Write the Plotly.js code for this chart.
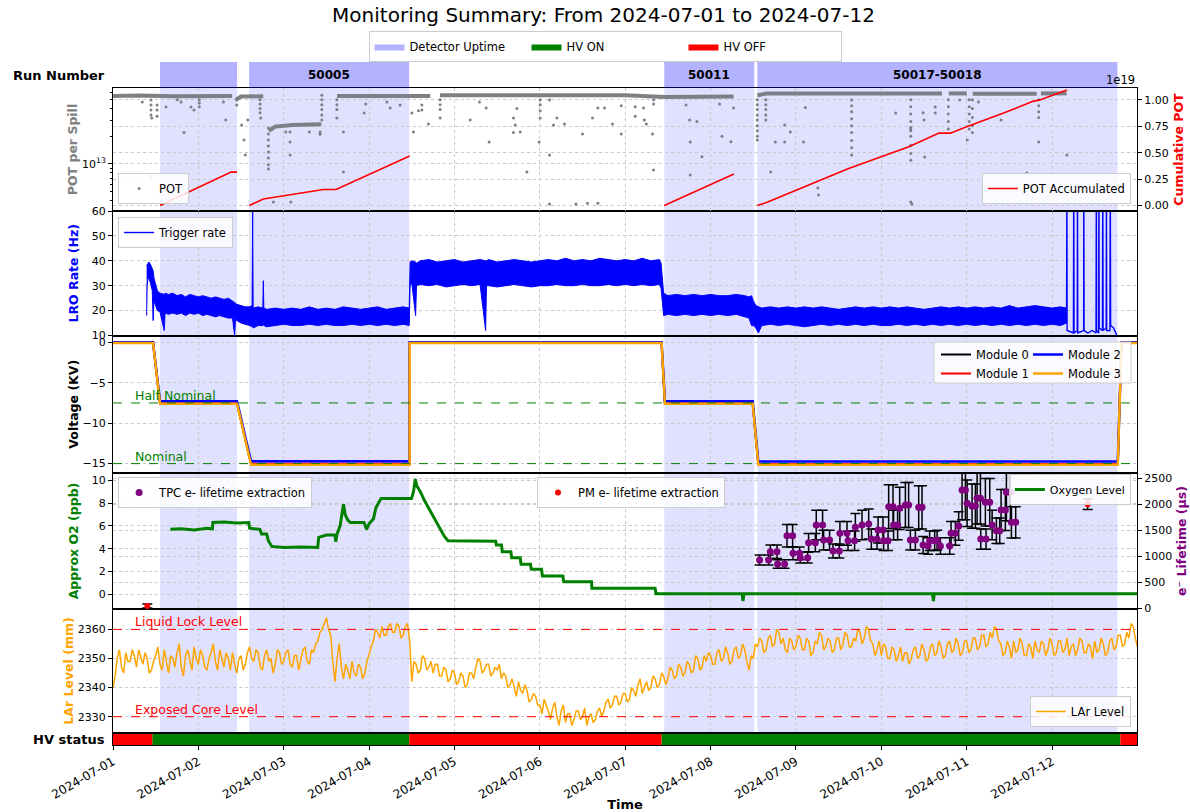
<!DOCTYPE html>
<html><head><meta charset="utf-8">
<script src="https://cdn.plot.ly/plotly-3.0.1.min.js"></script>
<style>html,body{margin:0;padding:0;background:#fff}#chart{width:1190px;height:812px}</style>
</head><body><div id="chart"></div>
<script>
// ---------- DATA (times are days since 2024-07-01 00:00) ----------
const upStart = [0.551, 1.594, 6.457, 7.547];
const upEnd   = [1.453, 3.469, 7.512, 11.766];
const runLabels = ['', '50005', '50011', '50017-50018'];

const hvOnStart = [0.46, 6.425];
const hvOnEnd   = [3.47, 11.80];
const hvOffStart = [0, 3.47, 11.80];
const hvOffEnd   = [0.46, 6.425, 12.0];

// POT per spill: dense band (with gaps) and scattered points
const potBandT = [0.0, 0.3, 0.7, 1.0, 1.395, null, 1.44, 1.5, 1.76, null, 1.825, 1.9, 2.1, 2.44, null,
  2.625, 3.0, 3.715, null, 3.83, 5.0, 6.0, 6.46, 7.27, null, 7.547, 7.66, 8.5, 9.71, null, 9.79, 10.0, null,
  10.07, 10.82, null, 10.87, 11.17];
const potBandV = [5.5e13, 5.55e13, 5.45e13, 5.5e13, 5.5e13, null, 5.0e13, 5.4e13, 5.45e13, null, 2.3e13, 2.55e13, 2.65e13, 2.7e13, null,
  5.5e13, 5.5e13, 5.5e13, null, 5.6e13, 5.65e13, 5.6e13, 5.35e13, 5.4e13, null, 5.6e13, 5.85e13, 5.85e13, 5.85e13, null, 5.85e13, 5.85e13, null,
  5.8e13, 5.8e13, null, 5.85e13, 5.85e13];
const potT = [0.343, 0.445, 0.445, 0.445, 0.445, 0.454, 0.516, 0.516, 0.516, 0.454, 0.621, 0.754, 0.832, 0.914, 0.949,
  1.011, 1.011, 1.011, 0.797, 1.293, 1.321, 1.450, 1.450, 1.508, 1.535, 1.550, 1.579,
  1.723, 1.723, 1.723, 1.723, 1.730, 1.820, 1.820, 1.820, 1.820, 1.820, 1.820, 1.820, 1.820,
  1.879, 2.024, 2.074, 2.074, 2.074, 2.083, 2.300, 2.426, 2.426,
  2.446, 2.446, 2.446, 2.446, 2.446, 2.446, 2.622, 2.622, 2.622, 2.622, 2.699, 2.699,
  2.942, 2.961, 3.208, 3.246, 3.363, 3.501, 3.519, 3.578, 3.618, 3.618, 3.695,
  3.832, 3.832, 3.832, 3.832, 4.184, 4.293, 4.371, 4.406, 4.691, 4.711, 4.691, 4.770, 4.731, 4.848, 4.992,
  5.004, 5.004, 5.004, 5.004, 5.113, 5.113, 5.113, 5.160, 5.200, 5.289, 5.500, 5.423, 5.558, 5.680,
  5.617, 5.680, 5.758, 5.851, 5.953, 5.953, 6.117, 6.117, 6.215, 6.223, 6.247, 6.320, 6.332, 6.332, 6.332,
  6.712, 6.754, 6.840, 6.762, 6.899, 6.762, 7.105, 7.133, 7.239, 7.269,
  7.547, 7.547, 7.547, 7.547, 7.547, 7.547, 7.547, 7.547, 7.547, 7.647, 7.647, 7.647, 7.647, 7.647,
  7.704, 7.758, 7.867, 7.867, 7.934, 8.110, 8.089, 8.256, 8.264,
  8.652, 8.652, 8.652, 8.652, 8.652, 8.652, 8.652, 8.652, 8.652, 9.168,
  9.345, 9.345, 9.345, 9.345, 9.345, 9.345, 9.345, 9.345, 9.345, 9.345, 9.345, 9.345, 9.358,
  9.490, 9.500, 9.508, 9.631, 9.631, 9.785, 9.785, 9.785, 9.785, 9.785, 9.918, 10.006,
  10.030, 10.030, 10.030, 10.030, 10.030, 10.067, 10.067, 10.067, 10.067, 10.067, 10.137, 10.403, 10.703,
  10.844, 10.844, 10.844, 10.844, 10.844, 11.174];
const potV = [4.72e13, 4.96e13, 4.38e13, 3.86e13, 3.41e13, 3.16e13, 4.38e13, 3.86e13, 3.3e13, 0.74e13, 4.17e13, 5.0e13, 2.2e13, 4.17e13, 3.86e13,
  5.0e13, 4.6e13, 4.2e13, 4.72e13, 4.72e13, 3.01e13, 4.96e13, 4.38e13, 2.65e13, 1.82e13, 1.25e13, 3.01e13,
  5.0e13, 4.5e13, 4.0e13, 3.6e13, 3.16e13, 2.46e13, 2.12e13, 1.82e13, 1.57e13, 1.35e13, 1.16e13, 0.98e13, 0.88e13,
  0.386e13, 2.23e13, 2.23e13, 1.73e13, 1.25e13, 0.386e13, 2.23e13, 2.23e13, 2.1e13,
  5.6e13, 5.0e13, 4.4e13, 3.9e13, 3.4e13, 3.0e13, 5.0e13, 4.4e13, 3.9e13, 3.16e13, 0.82e13, 2.23e13,
  3.58e13, 4.49e13, 4.72e13, 4.06e13, 4.38e13, 3.58e13, 2.23e13, 3.8e13, 3.86e13, 4.38e13, 2.72e13,
  5.0e13, 4.4e13, 3.9e13, 3.16e13, 3.0e13, 4.72e13, 4.06e13, 1.73e13, 3.16e13, 2.65e13, 2.2e13, 2.23e13, 4.0e13, 0.82e13, 1.73e13,
  5.0e13, 4.4e13, 3.8e13, 3.16e13, 1.25e13, 0.367e13, 4.96e13, 2.65e13, 3.16e13, 2.72e13, 2.12e13, 0.367e13, 0.375e13, 0.375e13,
  3.16e13, 4.06e13, 4.06e13, 2.72e13, 4.3e13, 2.12e13, 4.2e13, 3.3e13, 4.06e13, 3.01e13, 2.72e13, 2.12e13, 0.86e13, 5.0e13, 4.5e13,
  4.38e13, 3.01e13, 2.9e13, 1.73e13, 1.2e13, 0.76e13, 4.49e13, 2.0e13, 1.75e13, 4.06e13,
  5.0e13, 4.4e13, 3.9e13, 3.4e13, 3.0e13, 2.6e13, 2.3e13, 2.0e13, 1.82e13, 5.0e13, 4.4e13, 3.9e13, 3.4e13, 3.0e13,
  0.82e13, 1.73e13, 1.73e13, 2.65e13, 2.23e13, 4.1e13, 1.73e13, 0.55e13, 0.46e13,
  4.96e13, 4.3e13, 3.7e13, 3.1e13, 2.6e13, 2.2e13, 1.8e13, 1.5e13, 1.25e13, 3.58e13,
  5.0e13, 4.2e13, 3.5e13, 2.9e13, 2.5e13, 2.4e13, 2.3e13, 2.0e13, 1.6e13, 1.3e13, 1.1e13, 0.386e13, 0.367e13,
  3.6e13, 3.0e13, 1.19e13, 4.17e13, 3.58e13, 5.0e13, 4.2e13, 3.5e13, 2.9e13, 2.4e13, 4.96e13, 1.82e13,
  5.0e13, 4.2e13, 3.5e13, 2.9e13, 2.4e13, 5.0e13, 4.0e13, 3.2e13, 2.6e13, 2.2e13, 4.72e13, 3.0e13, 0.8e13,
  5.0e13, 4.3e13, 3.7e13, 3.2e13, 1.73e13, 1.25e13];

// Cumulative POT per run (units of 1e19)
const potCumT = [0.551, 1.383, 1.453, null, 1.594, 1.761, 2.466, 2.613, 3.475, null, 6.457, 7.273, null,
  7.547, 7.669, 8.617, 9.323, 9.675, 9.809, 10.006, 10.425, 10.777, 10.864, 11.174];
const potCumE19 = [0, 0.317, 0.317, null, 0, 0.062, 0.152, 0.152, 0.47, null, 0, 0.298, null,
  0, 0.033, 0.35, 0.557, 0.686, 0.686, 0.75, 0.874, 0.987, 1.003, 1.094];

// LRO trigger rate: upper / lower envelope of the dense trace, and the erratic end
const lroT = [0.394,0.400,0.410,0.420,0.440,0.460,0.470,0.480,0.500,0.520,0.550,0.600,0.610,0.650,0.700,0.750,0.800,0.850,0.900,0.950,
  1.000,1.050,1.100,1.150,1.200,1.250,1.300,1.350,1.400,1.425,1.435,1.450,1.500,1.550,1.600,1.630,1.636,1.642,1.700,1.755,1.761,1.767,
  1.800,1.900,2.000,2.100,2.200,2.300,2.400,2.500,2.600,2.700,2.800,2.900,3.000,3.100,3.200,3.300,3.400,3.470,
  3.475,3.480,3.500,3.545,3.555,3.600,3.700,3.800,3.900,4.000,4.100,4.200,4.300,4.365,4.375,4.400,4.500,4.600,4.700,4.800,4.900,
  5.000,5.100,5.200,5.300,5.400,5.500,5.600,5.700,5.800,5.900,6.000,6.100,6.200,6.300,6.400,6.420,
  6.450,6.500,6.600,6.700,6.800,6.900,7.000,7.100,7.200,7.300,7.400,7.450,7.480,7.500,7.530,7.560,7.600,7.700,7.800,7.900,
  8.000,8.100,8.200,8.300,8.400,8.500,8.600,8.700,8.800,8.900,9.000,9.100,9.200,9.300,9.400,9.500,9.600,9.700,9.800,9.900,
  10.000,10.100,10.200,10.300,10.400,10.500,10.600,10.700,10.800,10.900,11.000,11.100,11.170];
const lroHi = [38,38.5,39,39.5,38.5,37,36,33,30,28,27,26.5,27,26.5,27,26,26.5,25.5,26.5,26,
  25.5,26,25.5,25,25.5,25,24.5,25,24,23.5,23,22.5,22,21.5,21.5,22,60,21,21.5,21,32,21,
  20.5,21,20.5,21,20.5,21.5,20.5,21,20.5,21.5,21,20.5,21,21.5,20.5,21,21.5,21,
  39,39.5,40,39.5,39,40,40.5,39.5,40,40.5,39.5,40,40.5,40,40,40.5,39.5,40,40.5,40,39.5,
  40,40.5,40,41,40,40.5,40,41,40.5,40,40.5,40,41,40,40.5,39,
  27,26,26.5,26,26.5,26,26.5,26,26,26.5,26,25.5,26,24,22,21.5,21,21.5,21,21.5,
  21,21.5,21,21.5,21,20.5,21,21.5,21,21.5,21,21.5,21,21.5,21,20.5,21,21.5,21,21.5,
  21,21.5,21,21.5,21,22,21,21.5,22,21.5,21,21.5,21];
const lroLo = [18,30,33,33,31,28,16,24,22,20,19.5,12,19,18.5,19,18.5,19,18,19,18.5,
  19,18,18.5,18,17.5,18,17.5,17,17,10,16.5,16,15,14.5,14,13.5,14,13,14,14,14.5,14,
  13.5,14,14.5,14,14,14.5,14,14.5,14,14,14.5,14,14.5,14,14.5,14,14.5,14,
  14,30,31,18,30,30.5,30,30.5,29.5,30,30.5,30,30.5,12,30,30,29.5,30,30.5,30,29.5,
  30,30,30.5,30,30,30.5,30,30,30.5,30,30.5,30,30.5,30,30.5,29,
  18,18.5,18,18.5,18,18.5,18,18.5,18,18.5,17.5,17,14,14,13,11,14,14.5,14,14.5,
  14,13.5,14,14.5,14,14.5,14,14.5,14,14.5,14,14,14.5,14,14.5,14,14.5,14,14.5,14,
  14.5,14,14.5,14,14.5,14,14.5,14,14.5,14,14.5,14,15];
const lroEndT = [11.170,11.174,11.176,11.250,11.254,11.258,11.295,11.298,11.301,11.370,11.372,11.375,11.420,11.470,
  11.515,11.519,11.522,11.546,11.549,11.552,11.590,11.594,11.598,11.634,11.637,11.640,11.678,11.682,11.686,11.720,11.747,11.760];
const lroEndV = [18,75,12,11,75,11,12,75,11,12,75,12,11,12,11,75,12,11,75,13,12,75,12,13,75,12,12,75,14,13,11,10];

// HV voltages (kV)
const voltT = [0, 0.469, 0.551, 1.453, 1.617, 3.475, 3.476, 6.426, 6.465, 7.493, 7.559, 11.770, 11.813, 12.0];
const voltM0 = [-0.05, -0.05, -7.55, -7.55, -15.1, -15.1, -0.05, -0.05, -7.55, -7.55, -15.1, -15.1, -0.05, -0.05];
const voltM1 = [-0.05, -0.05, -7.5, -7.5, -15.0, -15.0, -0.05, -0.05, -7.5, -7.5, -15.05, -15.05, -0.05, -0.05];
const voltM2 = [0, 0, -7.3, -7.3, -14.7, -14.7, 0, 0, -7.3, -7.3, -14.75, -14.75, 0, 0];
const voltM3 = [-0.1, -0.1, -7.6, -7.6, -15.15, -15.15, -0.1, -0.1, -7.6, -7.6, -15.15, -15.15, -0.1, -0.1];
const voltRefLevels = [-7.5, -15];
const voltRefNames = ['Half Nominal', 'Nominal'];

// Approx O2 (ppb)
const o2T = [0.672,0.8,0.95,1.10,1.165,1.17,1.3,1.45,1.59,1.60,1.72,1.74,1.80,1.82,1.86,2.0,2.2,2.398,2.41,2.50,2.60,2.61,2.625,2.66,2.70,2.72,2.75,2.78,2.94,2.97,
  3.00,3.05,3.08,3.12,3.14,3.30,3.497,3.52,3.541,3.56,3.60,3.65,3.70,3.743,3.79,3.832,3.88,3.924,4.2,4.483,4.49,4.55,4.56,4.66,4.67,4.77,4.78,4.89,4.90,5.02,
  5.03,5.27,5.28,5.605,5.61,6.35,6.36,7.37,7.38,7.39,9.60,9.61,9.62,12.0];
const o2V = [5.7,5.75,5.65,5.8,5.75,6.3,6.35,6.25,6.3,5.8,5.7,5.3,5.3,4.7,4.2,4.1,4.15,4.1,5.0,5.2,5.2,4.6,5.3,6.0,7.9,7.0,6.5,6.3,6.3,5.7,
  6.2,6.6,7.6,8.2,8.4,8.4,8.4,9.0,10.1,9.5,9.0,8.2,7.5,7.0,6.3,5.7,5.1,4.7,4.7,4.65,4.32,4.32,3.74,3.74,3.21,3.21,2.63,2.63,2.19,2.19,
  1.6,1.6,1.1,1.1,0.52,0.52,0.05,0.05,-0.6,0.05,0.05,-0.6,0.05,0.05];

// TPC electron lifetime (us) with errors
const ltT = [7.574,7.680,7.700,7.778,7.785,7.867,7.895,7.961,7.966,8.043,8.051,8.137,8.148,8.227,8.238,8.312,8.324,8.394,8.434,8.508,
  8.515,8.598,8.610,8.687,8.696,8.774,8.852,8.883,8.950,8.962,9.020,9.027,9.079,9.086,9.137,9.144,9.191,9.215,9.282,9.320,
  9.340,9.399,9.438,9.477,9.489,9.548,9.566,9.625,9.653,9.692,9.801,9.817,9.868,9.906,9.946,9.985,10.005,10.063,10.102,10.122,
  10.161,10.165,10.227,10.219,10.270,10.298,10.348,10.387,10.403,10.453,10.465,10.512,10.524,10.574];
const ltV = [929,929,1089,1089,852,852,1396,1396,1057,1057,974,974,1262,1262,1602,1602,1313,1313,1102,1102,
  1442,1442,1300,1300,1557,1602,1621,1332,1332,1506,1506,1300,1300,1954,1954,1602,1602,1923,1987,1987,
  1313,1313,1942,1942,1217,1198,1300,1300,1313,1198,1198,1442,1442,1583,2275,2275,2019,1967,1967,2115,
  2115,1332,1332,2038,2038,1602,1493,1493,1890,1890,2230,2230,1654,1654];
const ltErr = [95,95,130,130,80,80,215,215,123,123,104,104,175,175,282,282,190,190,134,134,
  229,229,186,186,267,282,289,195,195,250,250,186,186,420,420,282,282,407,434,434,
  190,190,415,415,163,158,186,186,190,158,158,229,229,276,570,570,448,425,425,492,
  492,195,195,457,457,282,245,245,393,393,547,547,301,301];
const pmT = [0.402, 11.417];
const pmV = [44, 2000];
const pmErr = [40, 100];

// LAr level (mm), sampled every 0.025 day from day 0 (one row = half a day)
const larStepDays = 0.025;
const larV = [
  2340,2344,2350,2353,2347,2345,2352,2349,2349,2353,2351,2347,2353,2350,2348,2352,2350,2345,2346,2349,
  2351,2354,2348,2346,2353,2349,2345,2351,2350,2347,2352,2355,2347,2344,2351,2353,2349,2346,2354,2350,
  2348,2353,2351,2347,2346,2350,2352,2355,2349,2346,2353,2350,2347,2352,2350,2346,2352,2348,2345,2350,
  2351,2346,2348,2352,2354,2350,2349,2353,2352,2347,2346,2351,2353,2349,2350,2345,2348,2353,2352,2348,
  2349,2352,2353,2348,2347,2351,2351,2346,2350,2353,2354,2349,2348,2353,2352,2355,2356,2359,2360,2362,
  2364,2360,2358,2349,2342,2350,2355,2347,2343,2348,2346,2343,2349,2345,2344,2348,2347,2343,2345,2349,
  2352,2354,2356,2360,2359,2357,2361,2358,2358,2361,2362,2359,2359,2362,2361,2357,2358,2361,2362,2356,
  2342,2349,2348,2345,2346,2351,2350,2346,2347,2349,2345,2348,2348,2344,2344,2347,2346,2342,2343,2346,
  2345,2341,2342,2345,2344,2340,2341,2345,2345,2343,2347,2350,2349,2345,2346,2348,2348,2344,2345,2347,
  2346,2348,2343,2345,2344,2340,2341,2343,2340,2337,2342,2339,2338,2341,2339,2335,2336,2338,2337,2334,
  2334,2331,2336,2334,2332,2329,2333,2335,2330,2327,2332,2334,2328,2331,2331,2327,2329,2332,2332,2329,
  2330,2333,2327,2330,2331,2328,2329,2332,2333,2330,2332,2335,2336,2333,2334,2337,2337,2334,2335,2338,
  2338,2335,2336,2340,2339,2337,2341,2343,2338,2340,2342,2339,2340,2344,2343,2340,2341,2345,2344,2341,
  2343,2347,2346,2343,2344,2348,2347,2344,2345,2349,2348,2345,2346,2351,2350,2346,2347,2351,2349,2352,
  2351,2348,2348,2352,2353,2349,2350,2354,2352,2348,2349,2353,2354,2350,2351,2355,2353,2349,2346,2351,
  2350,2355,2354,2357,2356,2352,2353,2357,2358,2354,2355,2360,2359,2355,2357,2353,2352,2357,2356,2353,
  2354,2358,2357,2353,2353,2357,2356,2351,2352,2356,2355,2359,2358,2353,2354,2357,2356,2352,2353,2357,
  2357,2353,2355,2359,2358,2354,2354,2357,2356,2360,2359,2355,2357,2361,2360,2356,2355,2351,2353,2356,
  2351,2355,2354,2350,2350,2354,2353,2349,2351,2354,2349,2352,2352,2348,2350,2353,2354,2350,2351,2355,
  2353,2349,2350,2354,2355,2351,2352,2356,2354,2350,2351,2355,2356,2352,2353,2357,2355,2351,2352,2356,
  2356,2352,2353,2357,2357,2353,2354,2358,2358,2354,2355,2359,2357,2361,2360,2356,2355,2351,2352,2356,
  2354,2350,2356,2352,2353,2357,2355,2351,2351,2355,2354,2350,2356,2353,2352,2356,2355,2351,2353,2357,
  2355,2351,2352,2356,2356,2352,2353,2357,2351,2354,2355,2351,2353,2357,2356,2352,2352,2355,2354,2350,
  2356,2352,2353,2357,2355,2351,2352,2356,2357,2353,2354,2358,2358,2354,2355,2359,2357,2362,2361,2357,
  2354];
const larRefLevels = [2360, 2330];
const larRefNames = ['Liquid Lock Level', 'Exposed Core Level'];

// ---------- HELPERS ----------
const START = Date.UTC(2024, 6, 1);
function toDate(d) { return d === null ? null : new Date(START + d * 86400000).toISOString().replace('T', ' ').slice(0, 19); }
function dates(arr) { return arr.map(toDate); }
function rectPoly(starts, ends) {
  const xs = [], ys = [];
  for (let i = 0; i < starts.length; i++) {
    xs.push(starts[i], ends[i], ends[i], starts[i], starts[i], null);
    ys.push(0, 0, 1, 1, 0, null);
  }
  return {x: dates(xs), y: ys};
}
const larT = larV.map((v, i) => i * larStepDays);

const FONT = 'DejaVu Sans, Verdana, sans-serif';
const GRID = {showgrid: true, gridcolor: '#c9c9c9', griddash: 'dot', gridwidth: 1};
const LEG = {bgcolor: 'rgba(255,255,255,0.85)', bordercolor: '#cccccc', borderwidth: 1, font: {size: 11.5, family: FONT, color: '#000'}};

// ---------- TRACES ----------
const traces = [];
const runPoly = rectPoly(upStart, upEnd);
traces.push({x: runPoly.x, y: runPoly.y, xaxis: 'x9', yaxis: 'y9', type: 'scatter', mode: 'lines', fill: 'toself',
  fillcolor: 'rgba(0,0,255,0.30)', line: {width: 0, color: 'rgba(0,0,255,0.30)'}, name: 'Detector Uptime', legend: 'legend', legendrank: 1});
const onPoly = rectPoly(hvOnStart, hvOnEnd);
traces.push({x: onPoly.x, y: onPoly.y, xaxis: 'x', yaxis: 'y', type: 'scatter', mode: 'lines', fill: 'toself',
  fillcolor: '#008000', line: {width: 0, color: '#008000'}, name: 'HV ON', legend: 'legend', legendrank: 2});
const offPoly = rectPoly(hvOffStart, hvOffEnd);
traces.push({x: offPoly.x, y: offPoly.y, xaxis: 'x', yaxis: 'y', type: 'scatter', mode: 'lines', fill: 'toself',
  fillcolor: '#ff0000', line: {width: 0, color: '#ff0000'}, name: 'HV OFF', legend: 'legend', legendrank: 3});

// POT
traces.push({x: dates(potBandT), y: potBandV, xaxis: 'x7', yaxis: 'y7', mode: 'lines', line: {color: 'rgba(120,120,128,0.95)', width: 4},
  showlegend: false});
traces.push({x: dates(potT), y: potV, xaxis: 'x7', yaxis: 'y7', mode: 'markers', marker: {color: 'rgba(120,120,128,0.95)', size: 3},
  name: 'POT', legend: 'legend2'});
traces.push({x: dates(potCumT), y: potCumE19, xaxis: 'x7', yaxis: 'y8', mode: 'lines', line: {color: '#ff0000', width: 1.6},
  name: 'POT Accumulated', legend: 'legend3'});

// LRO
traces.push({x: dates(lroT.concat(lroT.slice().reverse())), y: lroHi.concat(lroLo.slice().reverse()), xaxis: 'x6', yaxis: 'y6',
  mode: 'lines', fill: 'toself', fillcolor: '#0000ff', line: {color: '#0000ff', width: 1}, showlegend: false});
traces.push({x: dates(lroEndT), y: lroEndV, xaxis: 'x6', yaxis: 'y6', mode: 'lines', line: {color: '#0000ff', width: 1.4},
  name: 'Trigger rate', legend: 'legend4'});

// Voltage
traces.push({x: dates(voltT), y: voltM0, xaxis: 'x5', yaxis: 'y5', mode: 'lines', line: {color: '#000000', width: 2}, name: 'Module 0', legend: 'legend5', legendrank: 1});
traces.push({x: dates(voltT), y: voltM1, xaxis: 'x5', yaxis: 'y5', mode: 'lines', line: {color: '#ff0000', width: 2}, name: 'Module 1', legend: 'legend5', legendrank: 2});
traces.push({x: dates(voltT), y: voltM2, xaxis: 'x5', yaxis: 'y5', mode: 'lines', line: {color: '#0000ff', width: 2.5}, name: 'Module 2', legend: 'legend6', legendrank: 1});
traces.push({x: dates(voltT), y: voltM3, xaxis: 'x5', yaxis: 'y5', mode: 'lines', line: {color: '#ffa500', width: 2.5}, name: 'Module 3', legend: 'legend6', legendrank: 2});

// O2 + lifetime
traces.push({x: dates(o2T), y: o2V, xaxis: 'x3', yaxis: 'y3', mode: 'lines', line: {color: '#008000', width: 3}, name: 'Oxygen Level', legend: 'legend9'});
traces.push({x: dates(ltT), y: ltV, xaxis: 'x3', yaxis: 'y4', mode: 'markers', marker: {color: '#800080', size: 7},
  error_y: {type: 'data', array: ltErr, visible: true, color: '#000', thickness: 1.5, width: 5},
  name: 'TPC e- lifetime extraction', legend: 'legend7'});
traces.push({x: dates(pmT), y: pmV, xaxis: 'x3', yaxis: 'y4', mode: 'markers', marker: {color: '#ff0000', size: 6},
  error_y: {type: 'data', array: pmErr, visible: true, color: '#000', thickness: 1.5, width: 5},
  name: 'PM e- lifetime extraction', legend: 'legend8'});

// LAr
traces.push({x: dates(larT), y: larV, xaxis: 'x2', yaxis: 'y2', mode: 'lines', line: {color: '#ffa500', width: 1.5}, name: 'LAr Level', legend: 'legend10'});

// ---------- LAYOUT ----------
const plotT = 62, plotB = 745, plotH = plotB - plotT;
function dom(topPx, botPx) { return [(plotB - botPx) / plotH, (plotB - topPx) / plotH]; }
function py(p) { return (plotB - p) / plotH; }
function px(p) { return (p - 113) / 1024; }
const D = {run: dom(62, 88), pot: dom(88, 211), lro: dom(211, 335.5), volt: dom(335.5, 473), o2: dom(473, 609), lar: dom(609, 733), hv: dom(733, 745)};

const xr = [toDate(0), toDate(11.995)];
function xax(anchor, extra) {
  return Object.assign({range: xr, type: 'date', anchor: anchor, matches: anchor === 'y' ? undefined : 'x', showticklabels: false,
    showline: true, mirror: true, linecolor: '#000', linewidth: 1, ticks: '', dtick: 86400000, tick0: toDate(0)}, GRID, extra || {});
}
function yax(domain, title, color, extra) {
  return Object.assign({domain: domain, anchor: 'x', showline: true, mirror: true, linecolor: '#000', linewidth: 1,
    ticks: 'outside', ticklen: 4, tickcolor: '#000', tickfont: {size: 11, family: FONT, color: '#000'},
    title: {text: '<b>' + title + '</b>', font: {size: 12.5, family: FONT, color: color}}, zeroline: false}, GRID, extra || {});
}

const layout = {
  width: 1190, height: 812,
  margin: {l: 113, r: 53, t: plotT, b: 812 - plotB},
  paper_bgcolor: '#fff', plot_bgcolor: '#fff',
  font: {family: FONT, size: 11, color: '#000'},
  title: {text: 'Monitoring Summary: From 2024-07-01 to 2024-07-12', font: {size: 20, family: FONT, color: '#000'},
    x: 0.479, xref: 'paper', xanchor: 'center', y: 1 - 15 / 812, yref: 'container', yanchor: 'middle'},
  xaxis: xax('y', {showticklabels: true, ticks: 'outside', ticklen: 4, tickcolor: '#000', tickangle: -30, tickformat: '%Y-%m-%d',
    tickfont: {size: 12.2, family: FONT, color: '#000'}, showgrid: false,
    title: {text: '<b>Time</b>', font: {size: 13, family: FONT}, standoff: 2}}),
  xaxis2: xax('y2'), xaxis3: xax('y3'), xaxis5: xax('y5'), xaxis6: xax('y6'), xaxis7: xax('y7'),
  xaxis9: xax('y9', {showline: false, showgrid: false}),
  yaxis: {domain: D.hv, anchor: 'x', range: [0, 1], showticklabels: false, ticks: '', showgrid: false, zeroline: false,
    showline: true, mirror: true, linecolor: '#000'},
  yaxis2: yax(D.lar, 'LAr Level (mm)', '#ffa500', {anchor: 'x2', range: [2324.4, 2367], dtick: 10}),
  yaxis3: yax(D.o2, 'Approx O2 (ppb)', '#008000', {anchor: 'x3', range: [-1.29, 10.64], dtick: 2}),
  yaxis4: yax(D.o2, 'e⁻ Lifetime (μs)', '#800080', {anchor: 'x3', overlaying: 'y3', side: 'right', range: [-13, 2602], dtick: 500, mirror: false}),
  yaxis5: yax(D.volt, 'Voltage (KV)', '#000', {anchor: 'x5', range: [-16.16, 0.84], dtick: 5}),
  yaxis6: yax(D.lro, 'LRO Rate (Hz)', '#0000ff', {anchor: 'x6', range: [10, 60], dtick: 10}),
  yaxis7: yax(D.pot, 'POT per Spill', '#808080', {anchor: 'x7', type: 'log', range: [12.489, 13.826], tickvals: [1e13], ticktext: ['10<sup>13</sup>'],
    minor: {ticks: 'outside', ticklen: 2, tickcolor: '#000', tickvals: [4e12, 5e12, 6e12, 7e12, 8e12, 9e12, 2e13, 3e13, 4e13, 5e13, 6e13], showgrid: false}}),
  yaxis8: yax(D.pot, 'Cumulative POT', '#ff0000', {anchor: 'x7', overlaying: 'y7', side: 'right', range: [-0.0515, 1.1136],
    tickvals: [0, 0.25, 0.5, 0.75, 1.0], tickformat: '.2f', mirror: false}),
  yaxis9: {domain: D.run, anchor: 'x9', range: [0, 1], showticklabels: false, ticks: '', showgrid: false, zeroline: false, showline: false},
  legend: Object.assign({}, LEG, {orientation: 'h', x: px(605), xanchor: 'center', y: py(31), yanchor: 'top',
    entrywidth: 112, entrywidthmode: 'pixels', traceorder: 'normal'}),
  legend2: Object.assign({}, LEG, {x: 0.005, xanchor: 'left', y: py(204), yanchor: 'bottom'}),
  legend3: Object.assign({}, LEG, {x: 0.994, xanchor: 'right', y: py(204), yanchor: 'bottom'}),
  legend4: Object.assign({}, LEG, {x: 0.005, xanchor: 'left', y: py(217), yanchor: 'top'}),
  legend5: Object.assign({}, LEG, {bgcolor: 'rgba(0,0,0,0)', borderwidth: 0, x: px(936), xanchor: 'left', y: py(340), yanchor: 'top', traceorder: 'normal'}),
  legend6: Object.assign({}, LEG, {bgcolor: 'rgba(0,0,0,0)', borderwidth: 0, x: px(1028), xanchor: 'left', y: py(340), yanchor: 'top', traceorder: 'normal'}),
  legend7: Object.assign({}, LEG, {x: 0.005, xanchor: 'left', y: py(477), yanchor: 'top'}),
  legend8: Object.assign({}, LEG, {x: px(537), xanchor: 'left', y: py(477), yanchor: 'top'}),
  legend9: Object.assign({}, LEG, {x: 0.994, xanchor: 'right', y: py(474), yanchor: 'top', font: {size: 11, family: FONT, color: '#000'}}),
  legend10: Object.assign({}, LEG, {x: 0.994, xanchor: 'right', y: py(727), yanchor: 'bottom'}),
  shapes: [], annotations: [], showlegend: true, hovermode: false
};

// Detector-uptime shading in every panel
[['x7', 'y7'], ['x6', 'y6'], ['x5', 'y5'], ['x3', 'y3'], ['x2', 'y2']].forEach(([xa, ya]) => {
  upStart.forEach((s, i) => layout.shapes.push({type: 'rect', xref: xa, yref: ya + ' domain', x0: toDate(s), x1: toDate(upEnd[i]),
    y0: 0, y1: 1, fillcolor: 'rgba(0,0,255,0.12)', line: {width: 0}, layer: 'below'}));
});
// Reference lines
voltRefLevels.forEach((v, i) => {
  layout.shapes.push({type: 'line', xref: 'x5 domain', yref: 'y5', x0: 0, x1: 1, y0: v, y1: v, line: {color: '#008000', width: 1, dash: 'dash'}});
  layout.annotations.push({xref: 'x5', yref: 'y5', x: toDate(0.234), y: v, text: voltRefNames[i], showarrow: false, xanchor: 'left', yanchor: 'bottom',
    font: {size: 12.5, family: FONT, color: '#008000'}, yshift: -2});
});
larRefLevels.forEach((v, i) => {
  layout.shapes.push({type: 'line', xref: 'x2 domain', yref: 'y2', x0: 0, x1: 1, y0: v, y1: v, line: {color: '#ff0000', width: 1, dash: 'dash'}});
  layout.annotations.push({xref: 'x2', yref: 'y2', x: toDate(0.234), y: v, text: larRefNames[i], showarrow: false, xanchor: 'left', yanchor: 'bottom',
    font: {size: 12.5, family: FONT, color: '#ff0000'}, yshift: -2});
});
// Frame for the two-column module legend
layout.shapes.push({type: 'rect', xref: 'paper', yref: 'paper', x0: px(934), x1: px(1131),
  y0: py(383), y1: py(342), fillcolor: 'rgba(255,255,255,0.85)', line: {color: '#cccccc', width: 1}, layer: 'above'});
// Run labels
upStart.forEach((s, i) => {
  if (runLabels[i]) layout.annotations.push({xref: 'x9', yref: 'y9', x: toDate((s + upEnd[i]) / 2), y: 0.5, yanchor: 'middle', text: '<b>' + runLabels[i] + '</b>',
    showarrow: false, font: {size: 12, family: FONT, color: '#000'}});
});
layout.annotations.push({xref: 'paper', yref: 'paper', x: 0, y: (D.run[0] + D.run[1]) / 2, xanchor: 'right', yanchor: 'middle', xshift: -6, text: '<b>Run Number</b>',
  showarrow: false, font: {size: 13, family: FONT, color: '#000'}});
layout.annotations.push({xref: 'paper', yref: 'paper', x: 0, y: (D.hv[0] + D.hv[1]) / 2, xanchor: 'right', yanchor: 'middle', xshift: -6, text: '<b>HV status</b>',
  showarrow: false, font: {size: 13, family: FONT, color: '#000'}});
layout.annotations.push({xref: 'paper', yref: 'paper', x: 1, y: D.pot[1], xanchor: 'right', yanchor: 'bottom', xshift: 0, yshift: -1, text: '1e19',
  showarrow: false, font: {size: 11.5, family: FONT, color: '#000'}});

Plotly.newPlot('chart', traces, layout, {staticPlot: true, displayModeBar: false});
</script>
</body></html>
